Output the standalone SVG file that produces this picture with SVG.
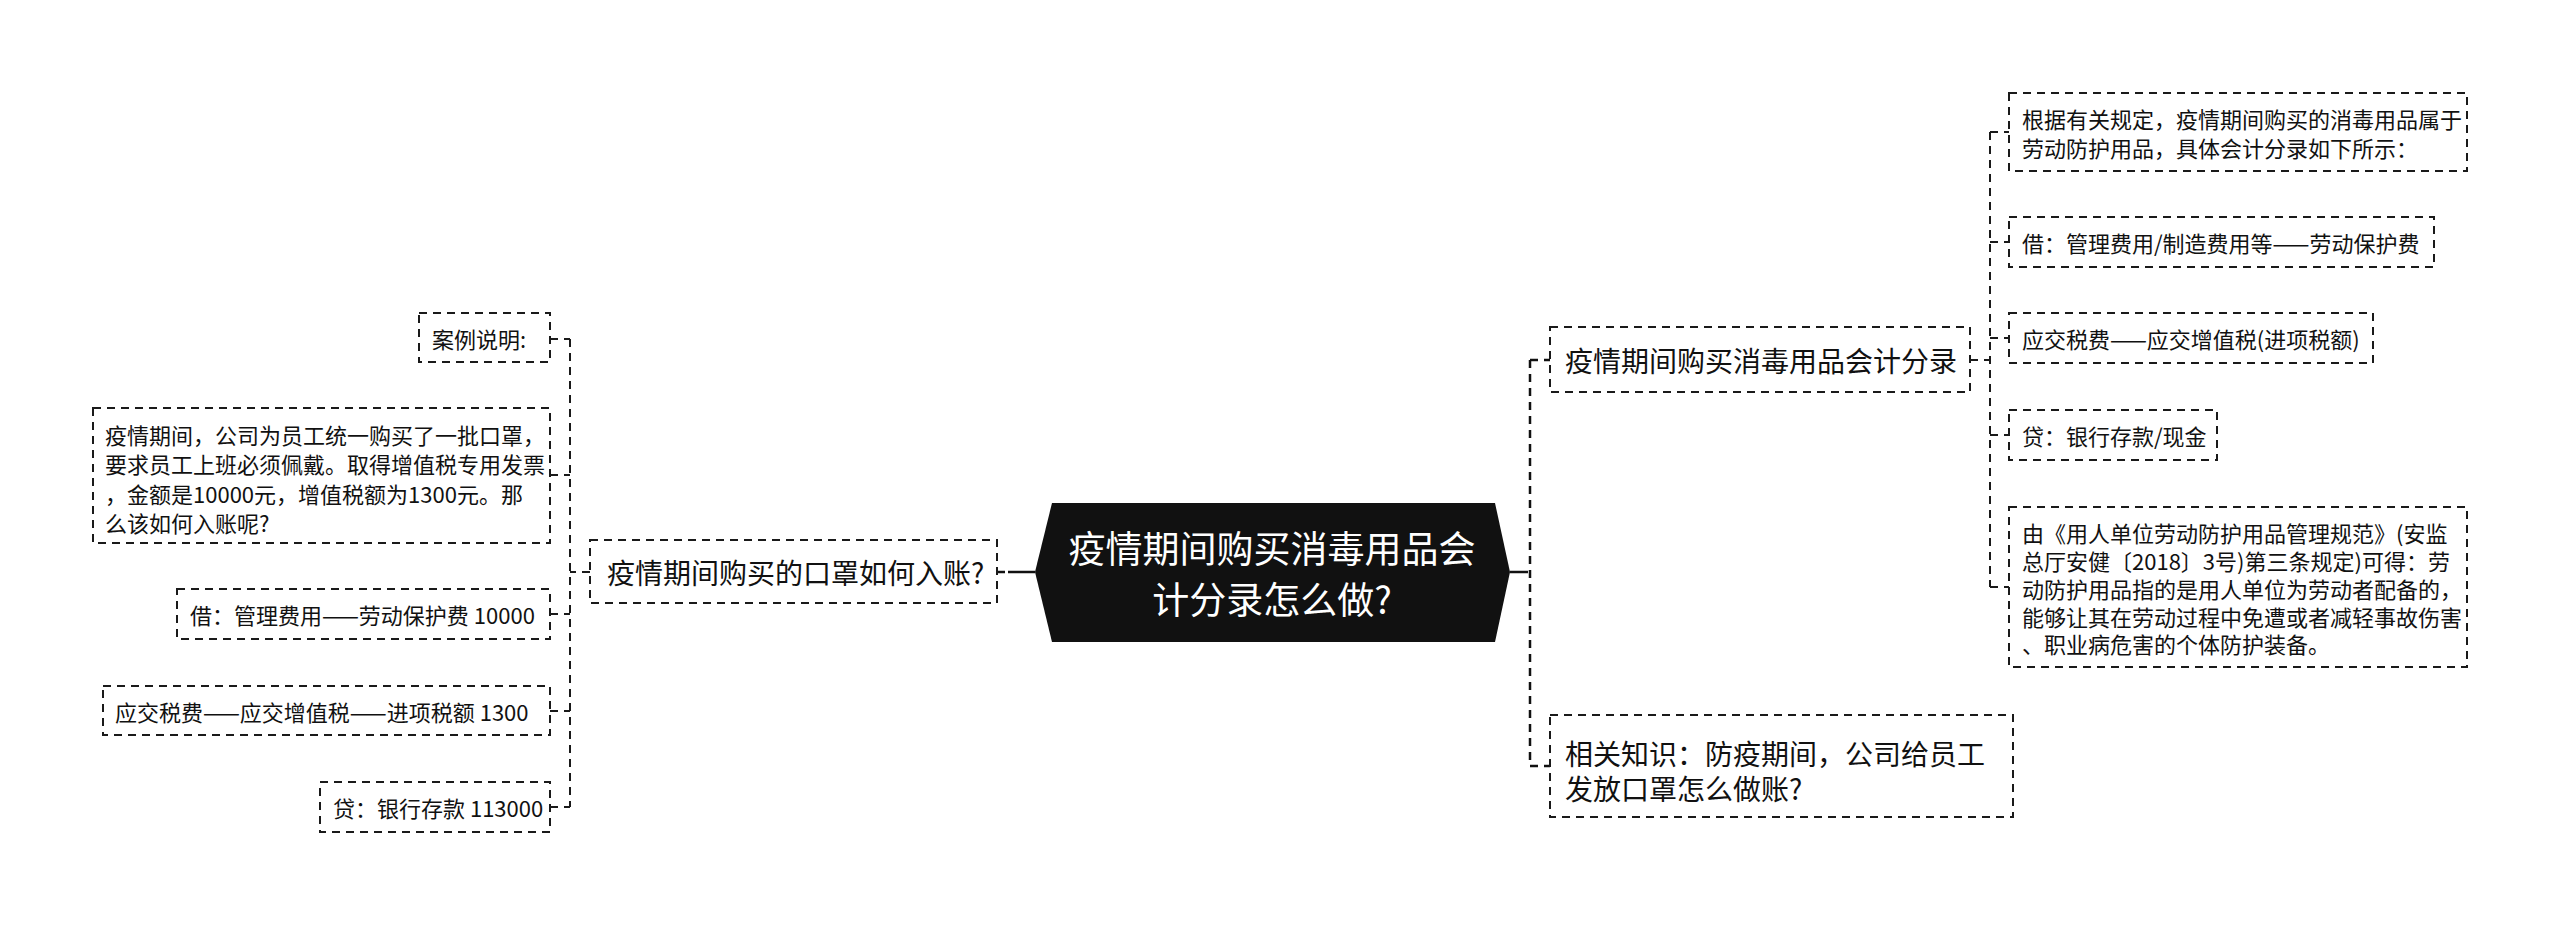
<svg xmlns="http://www.w3.org/2000/svg" width="2560" height="925" viewBox="0 0 2560 925">
<style>
.box{fill:#fff;stroke:#1a1a1a;stroke-width:2;stroke-dasharray:8 6}
.t{font-family:"Noto Sans CJK SC","Noto Sans",sans-serif;fill:#111;dominant-baseline:central}
.s22{font-size:22px}
.s28{font-size:28px}
.con{fill:none;stroke:#1a1a1a;stroke-width:2;stroke-dasharray:8 6}
.main{fill:none;stroke:#111;stroke-width:2.5}
.maind{fill:none;stroke:#111;stroke-width:2.5;stroke-dasharray:8 6}
</style>
<rect width="2560" height="925" fill="#fff"/>
<g id="connectors">
<path class="main" d="M1008 572H1035"/>
<path class="maind" d="M997 572H1008"/>
<path class="main" d="M1510 572H1528"/>
<path class="maind" d="M1530 360V766M1530 360H1550M1530 766H1550"/>
<path class="con" d="M570 339V807M590 572H570M550 339H570M550 475H570M550 614H570M550 711H570M550 807H570"/>
<path class="con" d="M1990 132V587M1970 360H1990M1990 132H2009M1990 242H2009M1990 338H2009M1990 435H2009M1990 587H2009"/>
</g>
<g id="root">
<polygon points="1052,503 1495,503 1510,572 1495,642 1052,642 1035,572" fill="#111"/>
<text class="t" x="1272" y="547" font-size="37" style="fill:#fff" text-anchor="middle">疫情期间购买消毒用品会</text>
<text class="t" x="1272" y="598" font-size="37" style="fill:#fff" text-anchor="middle">计分录怎么做?</text>
</g>
<g id="left1">
<rect class="box" x="590" y="540" width="407" height="63"/>
<text class="t s28" x="607" y="572">疫情期间购买的口罩如何入账?</text>
</g>
<g id="left1-c1">
<rect class="box" x="419" y="313" width="131" height="49"/>
<text class="t s22" x="432" y="338">案例说明:</text>
</g>
<g id="left1-c2">
<rect class="box" x="93" y="408" width="457" height="135"/>
<text class="t s22" x="105" y="434">疫情期间，公司为员工统一购买了一批口罩，</text>
<text class="t s22" x="105" y="463">要求员工上班必须佩戴。取得增值税专用发票</text>
<text class="t s22" x="105" y="493">，金额是10000元，增值税额为1300元。那</text>
<text class="t s22" x="105" y="522">么该如何入账呢?</text>
</g>
<g id="left1-c3">
<rect class="box" x="177" y="589" width="373" height="50"/>
<text class="t s22" x="190" y="614">借：管理费用——劳动保护费 10000</text>
</g>
<g id="left1-c4">
<rect class="box" x="103" y="686" width="447" height="49"/>
<text class="t s22" x="115" y="711">应交税费——应交增值税——进项税额 1300</text>
</g>
<g id="left1-c5">
<rect class="box" x="320" y="782" width="230" height="50"/>
<text class="t s22" x="333" y="807">贷：银行存款 113000</text>
</g>
<g id="right1">
<rect class="box" x="1550" y="327" width="420" height="65"/>
<text class="t s28" x="1565" y="360">疫情期间购买消毒用品会计分录</text>
</g>
<g id="right2">
<rect class="box" x="1550" y="715" width="463" height="102"/>
<text class="t s28" x="1565" y="753">相关知识：防疫期间，公司给员工</text>
<text class="t s28" x="1565" y="788">发放口罩怎么做账?</text>
</g>
<g id="right1-c1">
<rect class="box" x="2009" y="93" width="458" height="78"/>
<text class="t s22" x="2022" y="118">根据有关规定，疫情期间购买的消毒用品属于</text>
<text class="t s22" x="2022" y="147">劳动防护用品，具体会计分录如下所示：</text>
</g>
<g id="right1-c2">
<rect class="box" x="2009" y="217" width="425" height="50"/>
<text class="t s22" x="2022" y="242">借：管理费用/制造费用等——劳动保护费</text>
</g>
<g id="right1-c3">
<rect class="box" x="2009" y="313" width="364" height="50"/>
<text class="t s22" x="2022" y="338">应交税费——应交增值税(进项税额)</text>
</g>
<g id="right1-c4">
<rect class="box" x="2009" y="410" width="208" height="50"/>
<text class="t s22" x="2022" y="435">贷：银行存款/现金</text>
</g>
<g id="right1-c5">
<rect class="box" x="2009" y="507" width="458" height="160"/>
<text class="t s22" x="2022" y="532">由《用人单位劳动防护用品管理规范》(安监</text>
<text class="t s22" x="2022" y="560">总厅安健〔2018〕3号)第三条规定)可得：劳</text>
<text class="t s22" x="2022" y="588">动防护用品指的是用人单位为劳动者配备的，</text>
<text class="t s22" x="2022" y="616">能够让其在劳动过程中免遭或者减轻事故伤害</text>
<text class="t s22" x="2022" y="643">、职业病危害的个体防护装备。</text>
</g>
</svg>
